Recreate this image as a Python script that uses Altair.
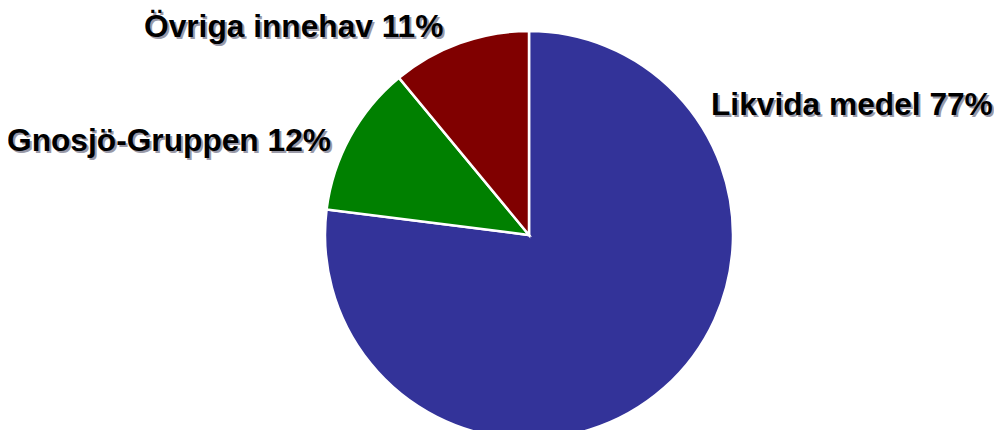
import altair as alt
import pandas as pd

categories = ["Likvida medel", "Gnosjö-Gruppen", "Övriga innehav"]
shares = [77, 12, 11]
slice_colors = ["#333399", "#008000", "#800000"]

df = pd.DataFrame({
    "category": categories,
    "share": shares,
    "idx": list(range(len(categories))),
})
df["label"] = [f"{c} {v}%" for c, v in zip(categories, shares)]

W, H = 986, 422
CX, CY, R = 521, 227, 204

base = alt.Chart(df)

pie = base.mark_arc(radius=R, x=CX, y=CY, stroke="white", strokeWidth=2.5).encode(
    theta=alt.Theta("share:Q", stack=True),
    color=alt.Color("category:N", scale=alt.Scale(domain=categories, range=slice_colors), legend=None),
    order=alt.Order("idx:Q", sort="ascending"),
)

# label anchors (left edge, baseline) in chart pixels
anchors = {
    "Likvida medel": (703, 107),
    "Gnosjö-Gruppen": (-1, 143),
    "Övriga innehav": (136, 29),
}

layers = [pie]
for cat, (ax, ay) in anchors.items():
    for off, col in ((2, "#9a9aa8"), (0, "#000000")):
        layers.append(
            base.transform_filter(alt.datum.category == cat)
            .mark_text(
                align="left", baseline="alphabetic", font="Liberation Sans",
                fontWeight="bold", fontSize=31.7, color=col,
            )
            .encode(x=alt.value(ax + off), y=alt.value(ay + off), text="label:N")
        )

chart = alt.layer(*layers).properties(
    width=W, height=H, padding=0,
    autosize=alt.AutoSizeParams(type="none"),
).configure_view(stroke=None)

chart.save("out.html", embed_options={"renderer": "svg", "actions": False})
